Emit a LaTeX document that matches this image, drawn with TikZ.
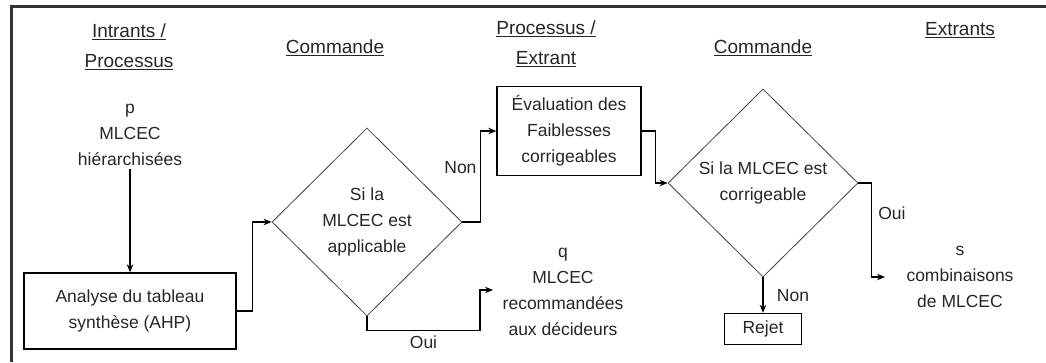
\documentclass[tikz,border=0pt]{standalone}
\usepackage{fontspec}
\setmainfont{Liberation Sans}
\usetikzlibrary{
  shapes.geometric, % Shape "diamond"
  arrows.meta,
  positioning
}
\def\mybodyfont{\fontsize{17.5}{26}\selectfont}
\def\myheadfont{\fontsize{19}{30}\selectfont}
\tikzset{
  font=\mybodyfont,
  >={Stealth[length=8pt,width=6.5pt]},
  text=black!85,
  my box/.style={
    draw,
    rectangle,
    line width=1.4pt,
    inner sep=0pt,
    align=center
  },
  my choice/.style={
    draw=black!75,
    diamond,
    line width=0.8pt,
    inner sep=0pt,
    minimum width=190pt,
    minimum height=188pt,
    align=center
  },
  my head/.style={
    align=center,
    font=\myheadfont
  },
  my text/.style={
    align=center
  },
  my link/.style={
    ->,
    line width=1.2pt
  }
}

\begin{document}
\begin{tikzpicture}[x=1pt,y=-1pt]
\useasboundingbox (0,0) rectangle (1046,362);
\draw[line width=3pt,black!80] (11,362) -- (11,6) -- (1046,6);
% column heads
\node[my head] (h1) at (129,47) {\underline{Intrants /}\\\underline{Processus}};
\node[my head] (h2) at (335,48) {\underline{Commande}};
\node[my head] (h3) at (546,44) {\underline{Processus /}\\\underline{Extrant}};
\node[my head] (h4) at (763,48) {\underline{Commande}};
\node[my head] (h5) at (960,30) {\underline{Extrants}};
% steps
\node[my text]  (p)     at (130,135) {p\\MLCEC\\hiérarchisées};
\node[my box,minimum width=212pt,minimum height=76pt] (ahp) at (130,311)
  {Analyse du tableau\\synthèse (AHP)};
\node[my choice] (c1)   at (367,222) {Si la\\MLCEC est\\applicable};
\node[my box,minimum width=144pt,minimum height=89pt] (eval) at (569,131)
  {Évaluation des\\Faiblesses\\corrigeables};
\node[my text]  (q)     at (563,292) {q\\MLCEC\\recommandées\\aux décideurs};
\node[my choice] (c2)   at (763,183) {Si la MLCEC est\\corrigeable};
\node[my box,minimum width=77pt,minimum height=31pt] (rejet) at (763,329) {Rejet};
\node[my text]  (s)     at (960,277) {s\\combinaisons\\de MLCEC};
\coordinate (q in) at (493,290);
\coordinate (s in) at (885,277);
% links
\draw[my link] (p) -- (ahp);
\draw[my link] (ahp.east) -- ++(16,0) |- (c1.west);
\draw[my link] (c1.east) -- ++(18,0) |- node[pos=0.3,left] {Non} (eval.west);
\draw[my link] (c1.south) -- ++(0,14)
  -| node[pos=0.25,below=1pt] {Oui} ([xshift=-13pt]q in) -- (q in);
\draw[my link] (eval.east) -- ++(14,0) |- (c2.west);
\draw[my link] (c2.east) -- ++(13,0) |- node[pos=0.16,right=3pt] {Oui} (s in);
\draw[my link] (c2.south) -- node[right=10pt] {Non} (rejet);
\end{tikzpicture}
\end{document}
